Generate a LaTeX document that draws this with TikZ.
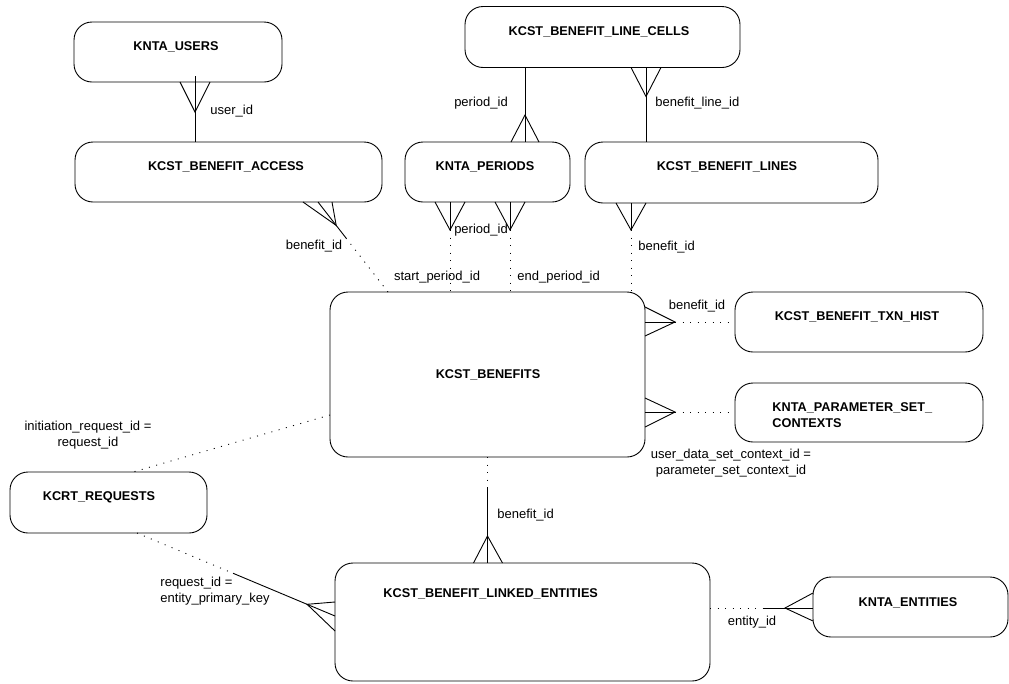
\documentclass[tikz,border=0pt]{standalone}
\usepackage{fontspec}
\setmainfont{Liberation Sans}
\usetikzlibrary{calc}
\begin{document}
\begin{tikzpicture}[x=1pt,y=-1pt,line width=0.9pt,
  entity/.style={draw, rounded corners=18pt, inner sep=0pt, outer sep=0pt},
  etext/.style={font=\bfseries\fontsize{12.7}{15}\selectfont, inner sep=0pt},
  lbl/.style={font=\fontsize{13}{16}\selectfont, inner sep=0pt},
  dots/.style={dash pattern=on 1pt off 6.5pt}]
\useasboundingbox (0,0) rectangle (1009,683);
% entities
\node[entity, minimum width=208pt, minimum height=60pt] (users) at (178,52) {};
\node[entity, minimum width=307pt, minimum height=60pt] (access) at (228.5,172) {};
\node[entity, minimum width=275pt, minimum height=61pt] (cells) at (602.5,37) {};
\node[entity, minimum width=165pt, minimum height=60pt] (periods) at (487.5,172) {};
\node[entity, minimum width=293pt, minimum height=61pt] (lines) at (731.5,172.5) {};
\node[entity, minimum width=315pt, minimum height=165pt] (benefits) at (487.5,374.5) {};
\node[entity, minimum width=248pt, minimum height=60pt] (txn) at (859,322) {};
\node[entity, minimum width=248pt, minimum height=59pt] (param) at (859,412.5) {};
\node[entity, minimum width=197pt, minimum height=61pt] (requests) at (108.5,502.5) {};
\node[entity, minimum width=375pt, minimum height=118pt] (linked) at (522.5,622) {};
\node[entity, minimum width=195pt, minimum height=60pt] (entities) at (910.5,607) {};
% entity titles
\node[etext] (usersT) at (176,47) {KNTA\_USERS};
\node[etext] (accessT) at (226,167) {KCST\_BENEFIT\_ACCESS};
\node[etext] (cellsT) at (599,32) {KCST\_BENEFIT\_LINE\_CELLS};
\node[etext] (periodsT) at (485,167) {KNTA\_PERIODS};
\node[etext] (linesT) at (727,167) {KCST\_BENEFIT\_LINES};
\node[etext] (txnT) at (857,317) {KCST\_BENEFIT\_TXN\_HIST};
\node[etext, anchor=west, align=left, font=\bfseries\fontsize{12.7}{16}\selectfont] (paramT) at (772,415) {KNTA\_PARAMETER\_SET\_\\CONTEXTS};
\node[etext] (benefitsT) at (488,375) {KCST\_BENEFITS};
\node[etext] (requestsT) at (99,497) {KCRT\_REQUESTS};
\node[etext, anchor=west] (linkedT) at (383,594) {KCST\_BENEFIT\_LINKED\_ENTITIES};
\node[etext] (entitiesT) at (908,603) {KNTA\_ENTITIES};
% 1 users - access
\coordinate (a1) at ($(users.south)+(17,0)$);
\draw ($(a1)+(0,-6)$) -- (a1 |- access.north);
\draw ($(a1)+(-15,0)$) -- ($(a1)+(0,30)$) -- ($(a1)+(15,0)$);
\node[lbl, anchor=west] (l1) at (210,111) {user\_id};
% 2 access - benefits
\coordinate (a2) at ($(access.south)+(89.5,0)$);
\coordinate (b2) at ($(benefits.north)+(-99.5,0)$);
\draw (a2) -- ($(a2)!0.4!(b2)$);
\draw[dots] ($(a2)!0.4!(b2)$) -- (b2);
\draw ($(a2)+(-15,0)$) -- ($(a2)!0.26!(b2)$) -- ($(a2)+(14,0)$);
\node[lbl] (l2) at (314,246) {benefit\_id};
% 3 cells - periods
\coordinate (a3) at ($(cells.south)+(-77.5,0)$);
\coordinate (b3) at (a3 |- periods.north);
\draw (a3) -- (b3);
\draw ($(b3)+(-14,0)$) -- ($(b3)+(0,-27)$) -- ($(b3)+(14,0)$);
\node[lbl] (l3) at (481,103) {period\_id};
% 4 cells - lines
\coordinate (a4) at ($(cells.south)+(43.5,0)$);
\draw (a4) -- (a4 |- lines.north);
\draw ($(a4)+(-15,0)$) -- ($(a4)+(0,29)$) -- ($(a4)+(15,0)$);
\node[lbl, anchor=west] (l4) at (655,103) {benefit\_line\_id};
% 5 periods - benefits (start)
\coordinate (a5) at ($(periods.south)+(-37.5,0)$);
\draw (a5) -- ($(a5)+(0,28)$);
\draw[dots] ($(a5)+(0,28)$) -- (a5 |- benefits.north);
\draw ($(a5)+(-15,0)$) -- ($(a5)+(0,28)$) -- ($(a5)+(15,0)$);
% 6 periods - benefits (end)
\coordinate (a6) at ($(periods.south)+(22.5,0)$);
\draw (a6) -- ($(a6)+(0,28)$);
\draw[dots] ($(a6)+(0,28)$) -- (a6 |- benefits.north);
\draw ($(a6)+(-15,0)$) -- ($(a6)+(0,28)$) -- ($(a6)+(15,0)$);
\node[lbl] (l5) at (481,230) {period\_id};
\node[lbl] (l6) at (437,277) {start\_period\_id};
\node[lbl, anchor=west] (l7) at (517,277) {end\_period\_id};
% 7 lines - benefits
\coordinate (a7) at ($(lines.south)+(-100.5,0)$);
\draw (a7) -- ($(a7)+(0,27)$);
\draw[dots] ($(a7)+(0,27)$) -- (a7 |- benefits.north);
\draw ($(a7)+(-15,0)$) -- ($(a7)+(0,27)$) -- ($(a7)+(15,0)$);
\node[lbl, anchor=west] (l8) at (638,247) {benefit\_id};
% 8 benefits - txn
\coordinate (a8) at ($(benefits.east)+(0,-52.5)$);
\draw (a8) -- ($(a8)+(30,0)$);
\draw[dots] ($(a8)+(30,0)$) -- (a8 -| txn.west);
\draw ($(a8)+(0,-15)$) -- ($(a8)+(30,0)$) -- ($(a8)+(0,14)$);
\node[lbl] (l9) at (697,306) {benefit\_id};
% 9 benefits - param
\coordinate (a9) at ($(benefits.east)+(0,37.5)$);
\draw (a9) -- ($(a9)+(30,0)$);
\draw[dots] ($(a9)+(30,0)$) -- (a9 -| param.west);
\draw ($(a9)+(0,-14)$) -- ($(a9)+(30,0)$) -- ($(a9)+(0,15)$);
\node[lbl, align=center] (l10) at (731,463) {user\_data\_set\_context\_id =\\parameter\_set\_context\_id};
% 10 benefits - requests
\coordinate (a10) at ($(benefits.west)+(0,40.5)$);
\coordinate (b10) at ($(requests.north)+(24.5,0)$);
\draw[dots] (a10) -- (b10);
\node[lbl, align=center] (l11) at (88,435) {initiation\_request\_id =\\request\_id};
% 11 requests - linked
\coordinate (a11) at ($(requests.south)+(28.5,0)$);
\coordinate (b11) at ($(linked.west)+(0,-6)$);
\draw[dots] (a11) -- ($(a11)!0.485!(b11)$);
\draw ($(a11)!0.485!(b11)$) -- (b11);
\draw ($(b11)+(0,-14)$) -- ($(a11)!0.859!(b11)$) -- ($(b11)+(0,15)$);
\node[lbl, anchor=west, align=left] (l12) at (160,591) {request\_id =\\entity\_primary\_key};
% 12 benefits - linked
\coordinate (a12) at (benefits.south);
\coordinate (b12) at (a12 |- linked.north);
\draw[dots] (a12) -- ($(a12)+(0,30)$);
\draw ($(a12)+(0,30)$) -- (b12);
\draw ($(b12)+(-14,0)$) -- ($(b12)+(0,-27)$) -- ($(b12)+(15,0)$);
\node[lbl, anchor=west] (l13) at (497,515) {benefit\_id};
% 13 linked - entities
\coordinate (a13) at ($(linked.east)+(0,-14)$);
\coordinate (b13) at (a13 -| entities.west);
\draw[dots] (a13) -- ($(a13)+(53,0)$);
\draw ($(a13)+(53,0)$) -- (b13);
\draw ($(b13)+(0,-15)$) -- ($(b13)+(-28,0)$) -- ($(b13)+(0,13)$);
\node[lbl] (l14) at (752,622) {entity\_id};
\end{tikzpicture}
\end{document}
